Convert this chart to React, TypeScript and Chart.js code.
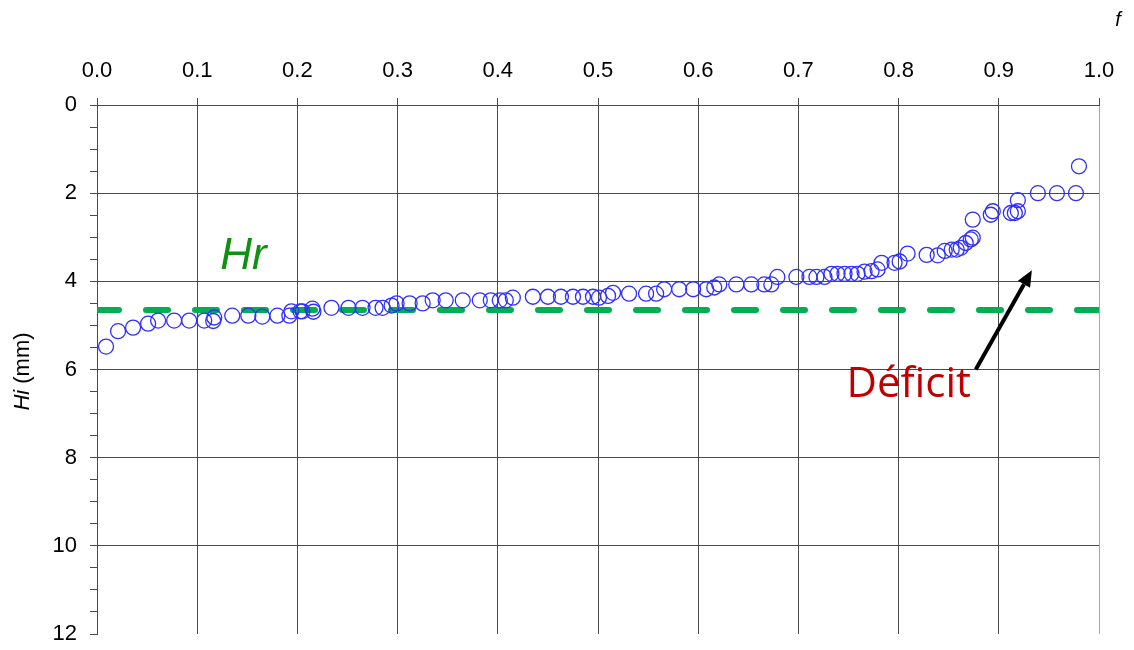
import React, { useEffect, useRef } from 'react';
import { Chart, registerables } from 'chart.js';

Chart.register(...registerables);

// f (cumulative frequency) and Hi (mm)
const fValues = [
  0.009, 0.021, 0.036, 0.051, 0.061, 0.077, 0.092, 0.107, 0.116, 0.117,
  0.135, 0.151, 0.165, 0.18, 0.192, 0.194, 0.203, 0.205, 0.215, 0.216,
  0.234, 0.251, 0.265, 0.278, 0.285, 0.294, 0.299, 0.312, 0.325, 0.335,
  0.348, 0.365, 0.382, 0.393, 0.402, 0.408, 0.415, 0.435, 0.45, 0.463,
  0.475, 0.485, 0.495, 0.501, 0.51, 0.515, 0.531, 0.548, 0.558, 0.566,
  0.581, 0.595, 0.608, 0.616, 0.621, 0.638, 0.653, 0.666, 0.673, 0.679,
  0.698, 0.711, 0.718, 0.726, 0.733, 0.739, 0.746, 0.753, 0.759, 0.766,
  0.773, 0.779, 0.783, 0.796, 0.801, 0.809, 0.828, 0.839, 0.846, 0.853,
  0.858, 0.862, 0.867, 0.872, 0.874, 0.874, 0.892, 0.894, 0.912, 0.916,
  0.919, 0.919, 0.939, 0.958, 0.977, 0.98,
];
const hiValues = [
  5.48, 5.13, 5.05, 4.96, 4.89, 4.89, 4.89, 4.89, 4.9, 4.82,
  4.78, 4.78, 4.8, 4.78, 4.78, 4.68, 4.68, 4.68, 4.62, 4.69,
  4.6, 4.6, 4.6, 4.6, 4.6, 4.55, 4.5, 4.5, 4.5, 4.43,
  4.43, 4.43, 4.43, 4.43, 4.43, 4.43, 4.37, 4.35, 4.35, 4.35,
  4.35, 4.35, 4.35, 4.37, 4.33, 4.26, 4.28, 4.28, 4.28, 4.18,
  4.18, 4.18, 4.18, 4.14, 4.07, 4.07, 4.07, 4.07, 4.07, 3.9,
  3.9, 3.9, 3.9, 3.9, 3.83, 3.83, 3.83, 3.83, 3.83, 3.78,
  3.77, 3.73, 3.58, 3.58, 3.55, 3.37, 3.4, 3.41, 3.31, 3.28,
  3.28, 3.24, 3.13, 3.05, 3.01, 2.6, 2.49, 2.41, 2.45, 2.45,
  2.41, 2.16, 2.0, 2.0, 2.0, 1.39,
];
const hrLevel = 4.65;
const xRange = [0, 1];
const yRange = [0, 12];
const yLabelStep = 2;

const FONT = '"Liberation Sans", Arial, sans-serif';
const FONT_LABEL = '"Open Sans", "Liberation Sans", Arial, sans-serif';

const annotationPlugin = {
  id: 'annotations',
  afterDraw(chart: any) {
    const ctx = chart.ctx;
    const xs = chart.scales.x;
    const ys = chart.scales.y;
    const area = chart.chartArea;
    ctx.save();

    // "Hr" label
    ctx.font = `italic 44px ${FONT}`;
    ctx.fillStyle = '#119111';
    ctx.textAlign = 'left';
    ctx.textBaseline = 'alphabetic';
    ctx.fillText('Hr', xs.getPixelForValue(0.123), ys.getPixelForValue(3.73));

    // "Déficit" label
    ctx.font = `42px ${FONT_LABEL}`;
    ctx.fillStyle = '#C00000';
    ctx.fillText('Déficit', xs.getPixelForValue(0.748), ys.getPixelForValue(6.62));

    // Arrow
    const x1 = xs.getPixelForValue(0.877);
    const y1 = ys.getPixelForValue(6.0);
    const x2 = xs.getPixelForValue(0.933);
    const y2 = ys.getPixelForValue(3.75);
    const ang = Math.atan2(y2 - y1, x2 - x1);
    const headLen = 16;
    const headW = 7;
    const bx = x2 - headLen * Math.cos(ang);
    const by = y2 - headLen * Math.sin(ang);
    ctx.strokeStyle = '#000';
    ctx.lineWidth = 4;
    ctx.lineCap = 'butt';
    ctx.beginPath();
    ctx.moveTo(x1, y1);
    ctx.lineTo(bx, by);
    ctx.stroke();
    ctx.fillStyle = '#000';
    ctx.beginPath();
    ctx.moveTo(x2, y2);
    ctx.lineTo(bx + headW * Math.sin(ang), by - headW * Math.cos(ang));
    ctx.lineTo(bx - headW * Math.sin(ang), by + headW * Math.cos(ang));
    ctx.closePath();
    ctx.fill();

    // "f" axis label (top right)
    ctx.font = `italic 20px ${FONT}`;
    ctx.fillStyle = '#000';
    ctx.textAlign = 'center';
    ctx.textBaseline = 'middle';
    ctx.fillText('f', area.right + 19, 20);

    // Y axis title "Hi (mm)" rotated
    ctx.translate(29, (area.top + area.bottom) / 2 + 2);
    ctx.rotate(-Math.PI / 2);
    ctx.textBaseline = 'alphabetic';
    ctx.textAlign = 'left';
    const fItal = `italic 22px ${FONT}`;
    const fNorm = `22px ${FONT}`;
    ctx.font = fItal;
    const w1 = ctx.measureText('Hi').width;
    ctx.font = fNorm;
    const w2 = ctx.measureText(' (mm)').width;
    const start = -(w1 + w2) / 2;
    ctx.font = fItal;
    ctx.fillText('Hi', start, 0);
    ctx.font = fNorm;
    ctx.fillText(' (mm)', start + w1, 0);

    ctx.restore();
  },
};

export default function App() {
  const canvasRef = useRef<HTMLCanvasElement | null>(null);

  useEffect(() => {
    const canvas = canvasRef.current;
    if (!canvas) return;
    const points = fValues.map((f, i) => ({ x: f, y: hiValues[i] }));
    const chart = new Chart(canvas, {
      type: 'scatter',
      data: {
        datasets: [
          {
            type: 'scatter',
            label: 'Hi',
            data: points,
            pointRadius: 7.5,
            pointHoverRadius: 7.5,
            pointBorderWidth: 1.3,
            pointBorderColor: '#2F2FFF',
            pointBackgroundColor: 'rgba(0,0,0,0)',
            order: 1,
          } as any,
          {
            type: 'line',
            label: 'Hr',
            data: [
              { x: xRange[0], y: hrLevel },
              { x: xRange[1], y: hrLevel },
            ],
            borderColor: '#00B050',
            borderWidth: 6,
            borderDash: [22, 27],
            borderCapStyle: 'round',
            pointRadius: 0,
            fill: false,
            order: 2,
          } as any,
        ],
      },
      options: {
        responsive: false,
        animation: false,
        devicePixelRatio: 1,
        layout: { padding: { left: 0, top: 0, right: 35, bottom: 16 } },
        plugins: {
          legend: { display: false },
          tooltip: { enabled: false },
          title: { display: false },
        },
        scales: {
          x: {
            type: 'linear',
            position: 'top',
            min: xRange[0],
            max: xRange[1],
            afterFit: (s: any) => {
              s.height = 105;
              s.paddingLeft = 0;
              s.paddingRight = 0;
            },
            ticks: {
              stepSize: 0.1,
              padding: 14,
              color: '#000',
              font: { family: FONT, size: 22 },
              callback: (v: any) => Number(v).toFixed(1),
            },
            grid: {
              color: (c: any) =>
                c.tick && c.tick.value >= 0.999 ? '#a8a8a8' : '#4a4a4a',
              tickColor: '#4a4a4a',
              tickLength: 7,
              lineWidth: 1,
            },
            border: { display: true, color: '#4a4a4a', width: 1 },
          },
          y: {
            type: 'linear',
            position: 'left',
            reverse: true,
            min: yRange[0],
            max: yRange[1],
            afterFit: (s: any) => {
              s.width = 97;
              s.paddingTop = 0;
              s.paddingBottom = 0;
            },
            ticks: {
              stepSize: 0.5,
              autoSkip: false,
              padding: 13,
              color: '#000',
              font: { family: FONT, size: 22 },
              callback: (v: any) =>
                Number(v) % yLabelStep === 0 ? String(v) : '',
            },
            grid: {
              color: (c: any) =>
                c.tick &&
                c.tick.value % yLabelStep === 0 &&
                c.tick.value !== yRange[1]
                  ? '#4a4a4a'
                  : 'rgba(0,0,0,0)',
              tickColor: '#4a4a4a',
              tickLength: 7,
              lineWidth: 1,
            },
            border: { display: true, color: '#4a4a4a', width: 1 },
          },
        },
      },
      plugins: [annotationPlugin],
    });
    return () => chart.destroy();
  }, []);

  return (
    <div style={{ position: 'absolute', left: 0, top: 0, width: 1134, height: 650, background: '#fff' }}>
      <canvas ref={canvasRef} width={1134} height={650} style={{ display: 'block' }} />
    </div>
  );
}
